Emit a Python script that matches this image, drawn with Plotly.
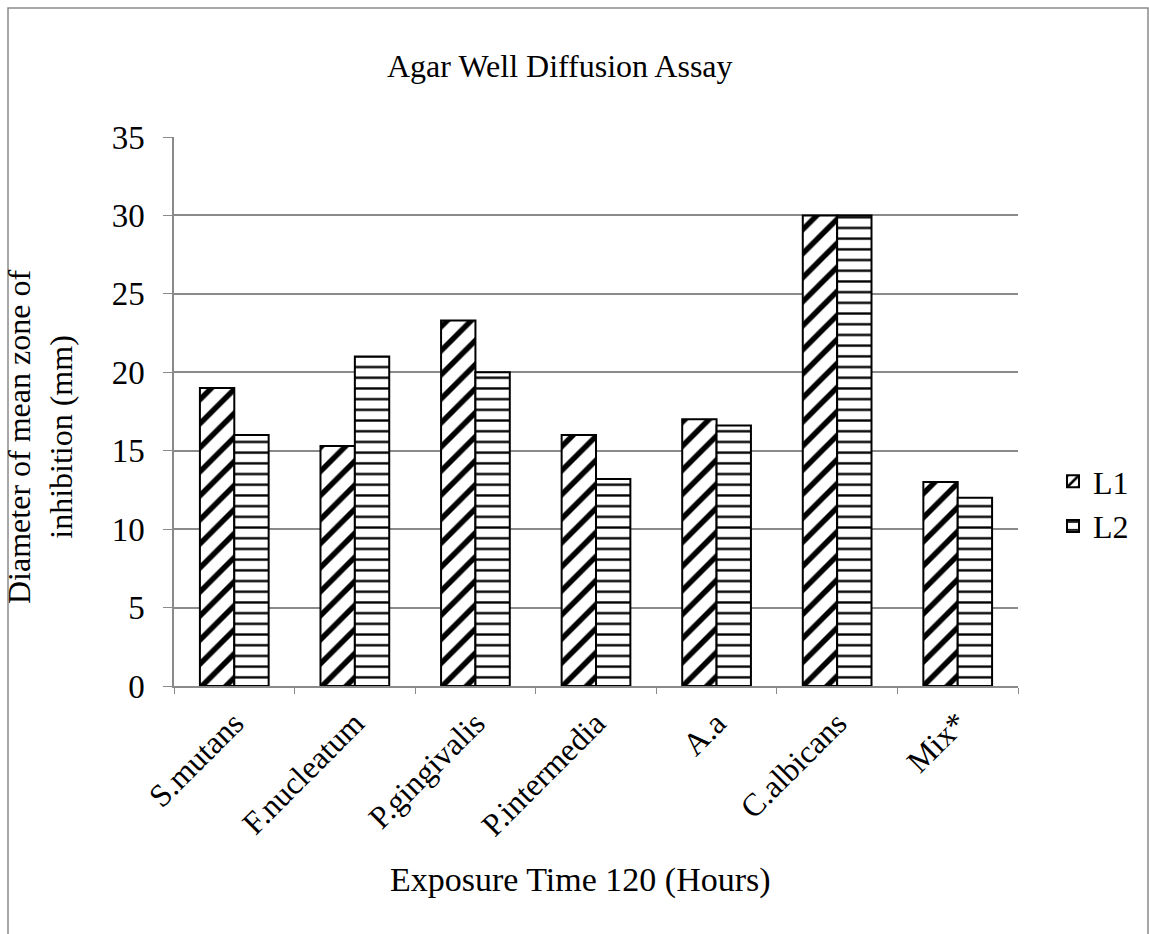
import plotly.graph_objects as go

categories = ["S.mutans", "F.nucleatum", "P.gingivalis", "P.intermedia", "A.a", "C.albicans", "Mix*"]
l1_values = [19, 15.3, 23.3, 16, 17, 30, 13]
l2_values = [16, 21, 20, 13.2, 16.6, 30, 12]
y_ticks = [0, 5, 10, 15, 20, 25, 30, 35]

W, H = 1149, 934
L, R, T, B = 174, 1018, 137, 686
FONT = "Liberation Serif, Times New Roman, serif"
GRAY = "#8a8a8a"


def px(x):
    return (x - L) / (R - L)


def py(y):
    return (B - y) / (B - T)


fig = go.Figure()
fig.add_trace(go.Bar(
    name="L1", x=categories, y=l1_values,
    marker=dict(color="white", line=dict(color="black", width=2),
                pattern=dict(shape="/", fgcolor="black", bgcolor="white",
                             fgopacity=1, size=17, solidity=0.32)),
))
fig.add_trace(go.Bar(
    name="L2", x=categories, y=l2_values,
    marker=dict(color="white", line=dict(color="black", width=2),
                pattern=dict(shape="-", fgcolor="black", bgcolor="white",
                             fgopacity=1, size=10.7, solidity=0.22)),
))

fig.update_layout(
    width=W, height=H,
    margin=dict(l=L, r=W - R, t=T, b=H - B, autoexpand=False),
    paper_bgcolor="white", plot_bgcolor="white",
    font=dict(family=FONT, color="black", size=32),
    bargap=0.43, bargroupgap=0,
    showlegend=True,
    legend=dict(x=px(1053), y=py(454), xanchor="left", yanchor="top",
                font=dict(size=32), tracegroupgap=4, bgcolor="rgba(0,0,0,0)"),
    xaxis=dict(
        type="category", tickangle=-45, tickfont=dict(size=32),
        showline=True, linecolor=GRAY, linewidth=1.5,
        ticks="outside", tickson="boundaries", ticklen=6, tickcolor=GRAY,
        ticklabelstandoff=4,
        showgrid=False,
    ),
    yaxis=dict(
        range=[0, 35], tickvals=y_ticks, tickfont=dict(size=33),
        showline=True, linecolor=GRAY, linewidth=1.5,
        ticks="outside", ticklen=9, tickcolor=GRAY,
        ticklabelstandoff=12,
        showgrid=True, gridcolor=GRAY, gridwidth=1.5, zeroline=False,
    ),
    shapes=[dict(type="rect", xref="paper", yref="paper",
                 x0=px(8), y0=py(960), x1=px(1148), y1=py(8),
                 line=dict(color=GRAY, width=1.5), fillcolor="rgba(0,0,0,0)",
                 layer="below")],
    annotations=[
        dict(text="Agar Well Diffusion Assay", xref="paper", yref="paper",
             x=px(560), y=py(66), showarrow=False, font=dict(size=32),
             xanchor="center", yanchor="middle"),
        dict(text="Exposure Time 120 (Hours)", xref="paper", yref="paper",
             x=px(580), y=py(880), showarrow=False, font=dict(size=34),
             xanchor="center", yanchor="middle"),
        dict(text="Diameter of mean zone of<br>inhibition (mm)", xref="paper", yref="paper",
             x=px(40), y=py(437), showarrow=False, font=dict(size=32),
             textangle=-90, xanchor="center", yanchor="middle"),
    ],
)

fig.write_html("out.html")
